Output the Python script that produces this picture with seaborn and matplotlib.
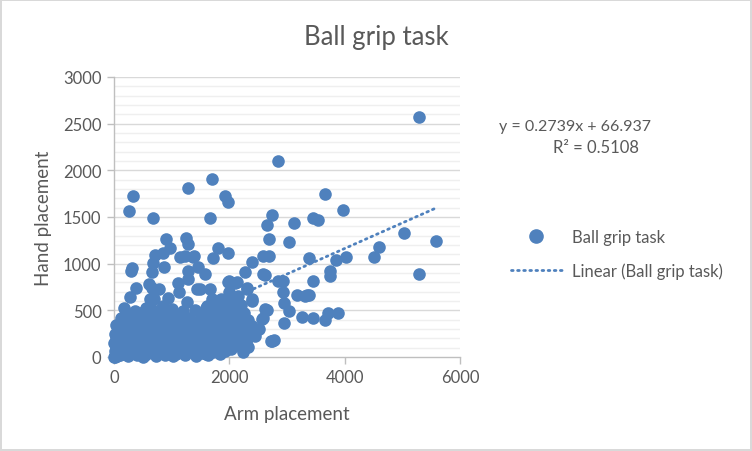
import matplotlib
matplotlib.use("Agg")
import matplotlib.pyplot as plt
import numpy as np
import pandas as pd
import seaborn as sns

# values
arm_sparse = [5289, 2840, 1699, 1283, 1925, 1977, 329, 260, 670, 1665, 3659, 3971, 3450, 3530,
              2740, 2653, 3121, 5029, 5590, 4590, 4508, 3381, 3850, 4023, 5289, 3745, 3745, 3451,
              3312, 3381, 3260, 3451, 3659, 3711, 3884, 2688, 3034, 1248, 1283, 1803, 1977, 1717,
              2584, 2688, 2393, 2272, 1144, 1370, 1457, 1578, 2618, 2844, 2930, 1994, 2098, 2306,
              2930, 2948, 3034, 3173, 3347, 2653, 2584, 2948, 2740, 2774, 2237, 2393, 902, 971,
              711, 850, 676, 659, 867, 1231, 1387, 1283, 295, 310, 381, 277, 607, 659, 780, 936,
              1110, 1283, 1439, 173, 364, 624, 624, 624, 850, 69, 1595, 503,
              1977, 2133, 2306, 2393, 2584, 2618, 2566, 2722, 1127, 1266, 1491, 1665, 1699, 1620,
              1751, 2011, 2060, 1890]
hand_sparse = [2571, 2105, 1907, 1811, 1725, 1661, 1730, 1564, 1484, 1489, 1746, 1575, 1489, 1470,
               1521, 1414, 1436, 1329, 1243, 1178, 1071, 1061, 1039, 1071, 889, 921, 868, 814,
               654, 664, 429, 418, 396, 471, 471, 1264, 1232, 1275, 1211, 1168, 1114, 1061,
               1082, 1082, 1018, 911, 1071, 1071, 964, 889, 879, 814, 814, 814, 793, 739,
               696, 579, 493, 664, 664, 504, 418, 364, 171, 182, 54, 600, 1264, 1168,
               1093, 1114, 1007, 911, 964, 1082, 1082, 921, 921, 950, 739, 643, 782, 739, 729, 632,
               793, 836, 729, 525, 493, 621, 546, 482, 546, 332, 32, 0,
               804, 804, 729, 621, 889, 514, 407, 171, 696, 589, 729, 729, 621, 546,
               482, 589, 482, 407]

arm_dense = [0, 10, 25, 40, 60, 80, 15, 30, 50, 5, 70, 100, 120, 140, 160, 180, 200, 220, 240, 260,
             280, 300, 320, 340, 360, 380, 400, 30, 90, 150, 110, 40, 60, 200, 250, 310, 180, 130,
             420, 440, 460, 480, 500, 520, 540, 560, 580, 600, 620, 640, 660, 680, 700, 720, 740,
             760, 780, 800, 820, 840, 860, 880, 900, 920, 940, 960, 980, 1000, 1020, 1040, 1060,
             1080, 1100, 1120, 1140, 1160, 1180, 1200, 1220, 1240, 1260, 1280, 1300, 1320, 1340,
             1360, 1380, 1400, 1420, 1440, 1460, 1480, 1500, 1520, 1540, 1560, 1580, 1600, 1620,
             1640, 1660, 1680, 1700, 1720, 1740, 1760, 1780, 1800, 1820, 1840, 1860, 1880, 1900,
             1920, 1940, 1960, 1980, 2000, 2020, 2040, 2060, 2080, 2100, 2120, 2150, 2180, 2200,
             2230, 2260, 2300, 2330, 2360, 2100, 2050, 2150, 2000, 1950, 2200, 2250, 2400, 2450,
             2520, 1700, 1800, 1850, 1600, 1400, 1200, 1000, 800, 700,
             550, 450, 400, 350, 250, 200, 150, 100, 20, 120,
             90, 170, 230, 330, 430, 530, 630, 730, 830, 930, 1030, 1130, 1230, 1330, 1430, 1530,
             1630, 1730, 1830, 1930, 2030, 2130, 2230, 2330]
hand_dense = [0, 15, 5, 30, 10, 45, 60, 90, 120, 150, 160, 20, 60, 100, 140, 30, 80, 170, 10, 120,
              200, 50, 250, 90, 180, 300, 20, 200, 240, 280, 330, 340, 260, 330, 360, 400, 220, 190,
              140, 260, 60, 380, 200, 110, 300, 30, 420, 160, 250, 70, 350, 440, 120, 220, 30,
              310, 400, 180, 90, 270, 450, 20, 360, 140, 230, 60, 320, 420, 170, 100, 260,
              30, 380, 200, 310, 90, 450, 150, 240, 50, 350, 120, 420, 200, 290,
              80, 380, 160, 30, 250, 340, 110, 430, 200, 60, 300, 150, 380, 240,
              90, 460, 180, 320, 50, 250, 400, 130, 300, 200, 430, 80, 350, 260,
              160, 480, 230, 330, 120, 420, 270, 190, 360, 440, 230, 300, 150, 380,
              250, 320, 190, 400, 280, 520, 600, 650, 700, 560, 560, 470, 330, 220,
              300, 560, 530, 620, 520, 500, 490, 510, 500, 620,
              520, 470, 420, 350, 430, 470, 380, 300, 250, 420,
              70, 110, 60, 40, 90, 20, 60, 15, 40, 80, 10, 50, 20, 70, 15, 45,
              20, 80, 30, 60, 90, 130, 70, 110]

arm = arm_sparse + arm_dense
hand = hand_sparse + hand_dense

slope = 0.2739
intercept = 66.937

df = pd.DataFrame({"Arm placement": arm, "Hand placement": hand})

blue = "#4F81BD"
grey_text = "#595959"

sns.set_theme(style="white")
plt.rcParams["font.family"] = ["Lato", "DejaVu Sans"]

fig = plt.figure(figsize=(7.52, 4.52), dpi=100)
fig.patch.set_edgecolor("#D9D9D9")
fig.patch.set_linewidth(1.5)
ax = fig.add_axes([114 / 752, 94 / 452, 346 / 752, 280 / 452])

# gridlines, minor every 100 and major every 500
for yv in range(100, 3001, 100):
    col = "#D9D9D9" if yv % 500 == 0 else "#EFEFEF"
    ax.axhline(yv, color=col, lw=1, zorder=0)

sns.scatterplot(data=df, x="Arm placement", y="Hand placement", ax=ax, color=blue,
                s=82, edgecolor=blue, linewidth=0, zorder=3, clip_on=False,
                label="Ball grip task", legend=False)

xs = np.array([min(arm), max(arm)])
trend, = ax.plot(xs, slope * xs + intercept, color=blue, lw=2, ls=(0, (0.6, 1.6)),
                 dash_capstyle="round", zorder=4, label="Linear (Ball grip task)")

ax.set_xlim(0, 6000)
ax.set_ylim(0, 3000)
ax.set_xticks([0, 2000, 4000, 6000])
ax.set_yticks(range(0, 3001, 500))
ax.tick_params(axis="both", which="major", direction="out", length=5, width=1,
               color="#BFBFBF", labelsize=12, labelcolor=grey_text, pad=4, left=True, bottom=True)
for side in ["top", "right"]:
    ax.spines[side].set_visible(False)
for side in ["left", "bottom"]:
    ax.spines[side].set_color("#BFBFBF")
    ax.spines[side].set_linewidth(1)
ax.set_xlabel("Arm placement", fontsize=13.5, color=grey_text, labelpad=14)
ax.set_ylabel("Hand placement", fontsize=13.5, color=grey_text, labelpad=8)

fig.text(0.5, 1 - 38 / 452, "Ball grip task", ha="center", va="center", fontsize=18.5, color=grey_text)
fig.text(575 / 752, 1 - 127 / 452, "y = 0.2739x + 66.937", ha="center", va="center",
         fontsize=11.5, color=grey_text)
fig.text(596 / 752, 1 - 148 / 452, "R² = 0.5108", ha="center", va="center",
         fontsize=12, color=grey_text)

pt = plt.Line2D([], [], marker="o", ls="", color=blue, markersize=9.5)
fig.legend([pt, trend], ["Ball grip task", "Linear (Ball grip task)"], loc="upper left",
           bbox_to_anchor=(496 / 752, 1 - 215 / 452), frameon=False, fontsize=12,
           labelcolor=grey_text, handlelength=3.05, handletextpad=0.6, labelspacing=1.05)

fig.savefig("out.png", dpi=100, edgecolor=fig.get_edgecolor())
